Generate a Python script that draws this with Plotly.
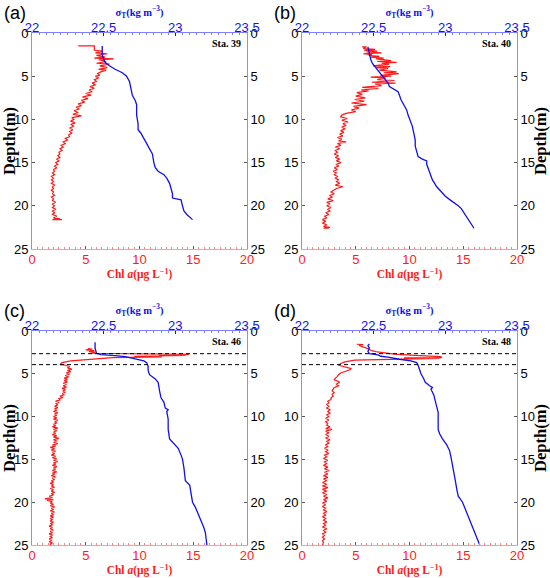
import plotly.graph_objects as go

# ---------------- data: (depth m, value) pairs ----------------
chl_39 = [(1.5,4.3),(1.5,5.8),(2.0,5.8),(2.1,6.6),(2.3,5.9),(2.4,7.0),(2.6,6.0),(2.8,6.8),(2.9,5.8),(3.0,7.6),
          (3.1,6.2),(3.3,6.9),(3.5,6.0),(3.6,7.2),(3.8,6.3),(4.0,7.0),(4.2,6.2),(4.3,6.9),(4.5,6.4),(4.7,6.1),
          (4.9,6.3),(5.0,5.9),(5.2,6.2),(5.4,5.8),(5.6,6.0),(5.8,5.6),(6.0,5.9),(6.2,5.4),(6.4,5.8),(6.6,5.3),
          (6.8,5.6),(7.0,5.0),(7.2,5.5),(7.4,4.7),(7.6,5.2),(7.8,4.6),(8.0,4.9),(8.2,4.3),(8.4,4.6),(8.6,4.1),
          (8.8,4.4),(9.0,3.9),(9.2,4.3),(9.4,3.8),(9.6,4.6),(9.8,3.7),(10.0,3.9),(10.2,3.6),(10.4,4.0),(10.6,3.6),
          (10.8,3.9),(11.0,3.5),(11.2,3.8),(11.4,3.5),(11.6,3.7),(11.8,3.4),(12.0,3.5),(12.2,3.1),(12.4,3.3),(12.6,2.9),
          (12.8,3.1),(13.0,2.7),(13.2,2.9),(13.4,2.6),(13.6,2.8),(13.8,2.5),(14.0,2.6),(14.2,2.4),(14.4,2.6),(14.6,2.3),
          (14.8,2.5),(15.0,2.2),(15.2,2.4),(15.4,2.1),(15.6,2.3),(15.8,2.0),(16.0,2.1),(16.2,1.9),(16.4,2.1),(16.6,1.8),
          (16.8,2.0),(17.0,1.8),(17.2,2.0),(17.4,1.8),(17.6,2.1),(17.8,1.9),(18.0,2.0),(18.2,1.8),(18.4,2.0),(18.6,1.9),
          (18.8,2.1),(19.0,1.8),(19.2,2.0),(19.4,1.9),(19.6,2.2),(19.8,1.9),(20.0,2.1),(20.2,1.9),(20.4,2.2),(20.6,1.9),
          (20.8,2.1),(21.0,1.9),(21.2,2.3),(21.4,2.0),(21.5,2.6),(21.6,1.9),(21.6,2.8)]
sig_39 = [(1.5,22.49),(2.5,22.49),(3.0,22.50),(3.4,22.51),(3.8,22.54),(4.2,22.58),(4.6,22.63),(5.0,22.66),(5.6,22.68),(6.5,22.69),
          (7.2,22.70),(7.8,22.72),(8.3,22.73),(9.5,22.73),(10.5,22.74),(11.2,22.74),(11.6,22.76),(12.2,22.78),(12.8,22.80),(13.4,22.82),
          (14.0,22.84),(15.0,22.85),(15.6,22.86),(16.0,22.88),(16.4,22.92),(16.8,22.94),(17.4,22.96),(18.0,22.97),(18.6,22.98),(19.1,22.98),
          (19.3,23.04),(20.0,23.05),(20.6,23.06),(21.0,23.08),(21.3,23.10),(21.6,23.12)]

chl_40 = [(1.6,5.6),(1.6,6.0),(1.8,5.7),(1.9,6.8),(2.0,5.8),(2.1,7.0),(2.2,6.0),(2.3,7.4),(2.4,5.7),(2.5,6.5),
          (2.6,6.2),(2.7,7.2),(2.8,6.4),(2.9,7.6),(3.0,6.9),(3.2,8.3),(3.3,7.0),(3.4,8.8),(3.5,7.4),(3.6,8.1),
          (3.8,6.6),(3.9,8.2),(4.0,6.9),(4.1,8.0),(4.3,7.2),(4.5,8.8),(4.6,7.6),(4.7,9.0),(4.9,7.3),(5.0,8.3),
          (5.1,6.4),(5.2,7.8),(5.4,7.0),(5.5,8.6),(5.7,6.5),(5.8,8.7),(5.9,6.8),(6.1,7.4),(6.3,5.6),(6.4,7.1),
          (6.6,5.5),(6.7,6.2),(6.9,5.1),(7.1,5.6),(7.3,5.0),(7.5,5.9),(7.7,4.9),(7.9,5.8),(8.1,4.6),(8.3,6.0),
          (8.5,4.8),(8.7,5.3),(8.9,4.6),(9.1,5.0),(9.3,4.1),(9.5,3.7),(9.7,3.6),(9.9,4.2),(10.1,3.7),(10.3,4.3),
          (10.5,3.8),(10.7,4.1),(10.9,3.7),(11.1,4.0),(11.3,3.6),(11.5,3.9),(11.7,3.5),(11.9,3.8),(12.1,3.3),(12.3,3.7),
          (12.5,3.4),(12.6,4.1),(12.8,3.3),(13.0,3.6),(13.2,3.1),(13.4,3.5),(13.6,3.1),(13.8,3.3),(14.0,3.0),(14.2,3.4),
          (14.4,3.1),(14.6,3.5),(14.8,3.2),(15.0,3.6),(15.2,3.2),(15.4,3.4),(15.6,3.0),(15.8,3.3),(16.0,2.9),(16.2,3.2),
          (16.4,3.0),(16.6,3.3),(16.8,3.1),(17.0,3.4),(17.2,3.2),(17.4,3.5),(17.6,3.1),(17.8,3.8),(18.0,3.2),(18.2,3.0),
          (18.4,2.7),(18.6,3.0),(18.8,2.6),(19.0,2.8),(19.2,2.4),(19.4,2.9),(19.6,2.3),(19.8,2.6),(20.0,2.3),(20.2,2.7),
          (20.4,2.4),(20.6,2.6),(20.8,2.2),(21.0,2.5),(21.2,2.1),(21.4,2.3),(21.6,1.9),(21.8,2.2),(22.0,1.9),(22.2,2.3),
          (22.4,2.0),(22.5,2.6),(22.6,2.0),(22.6,2.5)]
sig_40 = [(1.6,22.46),(2.4,22.47),(3.1,22.48),(3.5,22.49),(3.9,22.51),(4.3,22.53),(4.7,22.55),(5.0,22.56),(5.4,22.58),(5.8,22.60),
          (6.2,22.61),(6.6,22.65),(6.8,22.67),(7.2,22.68),(7.7,22.69),(8.3,22.71),(8.9,22.73),(9.5,22.74),(10.0,22.75),(10.8,22.77),
          (11.6,22.78),(12.4,22.79),(13.1,22.79),(13.8,22.80),(14.3,22.81),(14.6,22.84),(14.8,22.87),(15.2,22.87),(15.7,22.88),(16.2,22.89),
          (17.0,22.91),(17.8,22.94),(18.4,22.97),(18.9,23.00),(19.4,23.04),(19.7,23.07),(20.0,23.09),(20.3,23.11),(20.8,23.13),(21.2,23.15),
          (21.8,23.17),(22.2,23.19),(22.6,23.20)]

chl_46 = [(2.05,5.2),(2.1,5.6),(2.2,5.0),(2.3,5.8),(2.4,5.3),(2.5,5.9),(2.6,5.5),(2.72,14.6),(2.8,11.8),(2.86,14.3),
          (2.95,9.5),(3.02,12.1),(3.1,7.5),(3.3,5.3),(3.5,3.6),(3.7,2.8),(3.9,2.6),(4.0,3.1),(4.15,3.5),(4.3,3.3),
          (4.45,3.7),(4.6,3.3),(4.75,3.6),(4.9,3.2),(5.05,3.5),(5.2,3.1),(5.35,3.4),(5.5,3.0),(5.65,3.3),(5.8,3.0),
          (5.95,3.3),(6.1,2.9),(6.25,3.2),(6.4,2.9),(6.55,3.2),(6.7,2.8),(6.85,3.1),(7.0,2.9),(7.15,3.1),(7.3,2.8),
          (7.45,3.0),(7.6,2.6),(7.75,2.9),(7.9,2.5),(8.05,2.6),(8.2,2.2),(8.35,2.5),(8.5,2.2),(8.65,2.4),(8.8,2.1),
          (8.95,2.4),(9.1,2.1),(9.25,2.3),(9.4,2.0),(9.55,2.4),(9.7,2.1),(9.85,2.3),(10.0,2.0),(10.15,2.3),(10.3,2.0),
          (10.45,2.4),(10.6,2.1),(10.75,2.3),(10.9,2.0),(11.05,2.2),(11.2,1.9),(11.35,2.4),(11.5,2.0),(11.65,2.3),(11.8,2.0),
          (11.95,2.2),(12.1,1.9),(12.25,2.3),(12.4,2.0),(12.55,2.5),(12.7,2.0),(12.85,2.3),(13.0,2.0),(13.15,2.4),(13.3,1.9),
          (13.45,2.2),(13.6,1.7),(13.75,2.1),(13.9,1.8),(14.05,2.2),(14.2,1.9),(14.35,2.1),(14.5,1.8),(14.65,2.2),(14.8,1.9),
          (14.95,2.3),(15.1,2.0),(15.25,2.4),(15.4,2.0),(15.55,2.2),(15.7,1.9),(15.85,2.3),(16.0,2.0),(16.15,2.2),(16.3,1.9),
          (16.45,2.3),(16.6,1.9),(16.75,2.1),(16.9,1.8),(17.05,2.2),(17.2,1.9),(17.35,2.1),(17.5,1.8),(17.65,2.0),(17.8,1.7),
          (17.95,2.0),(18.1,1.8),(18.25,2.1),(18.4,1.7),(18.55,2.0),(18.7,1.8),(18.85,2.1),(19.0,1.8),(19.15,2.0),(19.3,1.6),
          (19.45,1.9),(19.6,1.2),(19.7,2.0),(19.8,1.4),(19.95,1.9),(20.1,1.7),(20.25,2.0),(20.4,1.7),(20.55,2.1),(20.7,1.8),
          (20.85,2.0),(21.0,1.7),(21.15,2.1),(21.3,1.8),(21.45,2.0),(21.6,1.7),(21.75,2.0),(21.9,1.7),(22.05,1.9),(22.2,1.7),
          (22.35,2.0),(22.5,1.7),(22.65,1.9),(22.8,1.6),(22.95,1.9),(23.1,1.7),(23.25,2.0),(23.4,1.7),(23.55,1.9),(23.7,1.6),
          (23.85,1.9),(24.0,1.7),(24.15,1.9),(24.3,1.6),(24.45,1.8),(24.6,1.6),(24.75,1.9),(24.9,1.7),(25.0,1.8)]
sig_46 = [(1.3,22.44),(2.0,22.44),(2.6,22.45),(2.75,22.48),(2.85,22.56),(3.0,22.65),(3.25,22.72),(3.5,22.78),(3.7,22.80),(4.1,22.81),
          (4.6,22.81),(5.1,22.82),(5.6,22.86),(6.0,22.88),(7.0,22.89),(7.8,22.90),(8.3,22.92),(9.0,22.93),(9.2,22.95),(9.4,22.94),
          (10.3,22.95),(11.5,22.95),(12.6,22.96),(13.1,22.99),(13.7,23.02),(14.5,23.04),(15.0,23.05),(16.0,23.06),(17.5,23.07),(18.0,23.10),
          (19.0,23.11),(20.0,23.12),(20.6,23.14),(21.3,23.16),(22.2,23.18),(23.0,23.20),(23.6,23.21),(25.0,23.22)]

chl_48 = [(1.55,5.1),(1.6,5.7),(1.7,5.3),(1.8,5.6),(2.0,6.0),(2.3,6.5),(2.45,7.0),(2.55,7.7),(2.7,8.6),(2.85,10.5),
          (3.0,12.9),(3.1,13.0),(3.15,9.5),(3.2,12.8),(3.3,6.0),(3.4,4.9),(3.6,4.0),(3.8,3.6),(4.0,3.4),(4.1,3.7),
          (4.25,4.3),(4.4,4.6),(4.55,4.4),(4.7,4.0),(4.9,3.6),(5.1,3.4),(5.3,3.3),(5.5,3.1),(5.7,3.0),(5.85,3.3),
          (6.0,3.5),(6.2,3.2),(6.4,3.4),(6.6,3.0),(6.8,2.9),(7.0,2.8),(7.2,3.0),(7.4,2.8),(7.6,2.9),(7.8,2.7),
          (8.0,2.7),(8.2,2.4),(8.4,2.5),(8.6,2.3),(8.8,2.5),(9.0,2.3),(9.2,2.6),(9.4,2.4),(9.6,2.6),(9.8,2.3),
          (10.0,2.5),(10.2,2.2),(10.4,2.5),(10.6,2.2),(10.8,2.4),(11.0,2.3),(11.2,2.6),(11.4,2.2),(11.5,2.8),(11.7,2.2),
          (11.9,2.5),(12.1,2.2),(12.3,2.5),(12.5,2.2),(12.7,2.6),(12.9,2.3),(13.1,2.5),(13.3,2.2),(13.5,2.4),(13.7,2.1),
          (13.9,2.4),(14.1,2.2),(14.3,2.5),(14.5,2.1),(14.7,2.3),(14.9,2.0),(15.1,2.4),(15.3,2.1),(15.5,2.3),(15.7,2.0),
          (15.9,2.4),(16.1,2.1),(16.3,2.5),(16.5,2.1),(16.7,2.4),(16.9,2.0),(17.1,2.4),(17.3,2.0),(17.5,2.3),(17.7,1.9),
          (17.9,2.3),(18.1,1.9),(18.3,2.4),(18.5,1.9),(18.7,2.3),(18.9,1.9),(19.1,2.3),(19.3,2.0),(19.5,2.4),(19.7,2.0),
          (19.9,2.3),(20.1,1.9),(20.3,2.2),(20.5,1.9),(20.7,2.2),(20.9,2.0),(21.1,2.3),(21.3,2.0),(21.5,2.2),(21.7,1.9),
          (21.9,2.2),(22.1,2.0),(22.3,2.3),(22.5,2.0),(22.7,2.2),(22.9,1.9),(23.1,2.3),(23.3,2.0),(23.5,2.2),(23.7,1.9),
          (23.9,2.1),(24.1,1.9),(24.3,2.1),(24.5,1.9),(24.7,2.0),(25.0,1.9)]
sig_48 = [(1.5,22.47),(1.7,22.46),(2.0,22.47),(2.4,22.46),(2.65,22.47),(2.8,22.53),(2.95,22.55),(3.05,22.60),(3.3,22.68),(3.5,22.76),
          (3.7,22.80),(4.0,22.81),(4.5,22.82),(5.0,22.83),(5.6,22.85),(6.0,22.86),(6.4,22.89),(6.6,22.91),(6.8,22.90),(7.5,22.92),
          (8.2,22.93),(8.8,22.94),(9.5,22.95),(10.5,22.95),(11.5,22.95),(12.0,22.96),(12.6,22.98),(13.3,23.01),(14.0,23.03),(14.8,23.04),
          (15.6,23.05),(16.5,23.06),(17.5,23.07),(18.5,23.08),(19.3,23.09),(20.0,23.12),(20.8,23.14),(21.6,23.16),(22.5,23.18),(23.3,23.20),
          (24.2,23.22),(25.0,23.24)]

panel_labels = ["(a)", "(b)", "(c)", "(d)"]
station_labels = ["Sta. 39", "Sta. 40", "Sta. 46", "Sta. 48"]
mixed_layer_bounds = [2.65, 3.93]          # dashed lines in (c) and (d)
depth_ticks = [0, 5, 10, 15, 20, 25]
chl_ticks = [0, 5, 10, 15, 20]
sig_ticks = [22, 22.5, 23, 23.5]
sig_ticktext = ["22", "22.5", "23", "23.5"]

# ---------------- layout geometry ----------------
W, H = 550, 578
RED = "#ff1a1a"
BLUE = "#1010ee"
GRAY = "#9a9a9a"
SANS = "Liberation Sans, Arial, sans-serif"
SERIF = "Liberation Serif, Times New Roman, serif"

panels = [
    dict(chl=chl_39, sig=sig_39, dash=False, title_side="left", px=(32, 247), py=(33, 249)),
    dict(chl=chl_40, sig=sig_40, dash=False, title_side="right", px=(302, 517), py=(33, 249)),
    dict(chl=chl_46, sig=sig_46, dash=True, title_side="left", px=(32, 247), py=(331, 545)),
    dict(chl=chl_48, sig=sig_48, dash=True, title_side="right", px=(302, 517), py=(331, 545)),
]

def fx(x):
    return x / W

def fy(y):
    return 1 - y / H

fig = go.Figure()
layout = dict(width=W, height=H, autosize=False, margin=dict(l=0, r=0, t=0, b=0, autoexpand=False),
              paper_bgcolor="white", plot_bgcolor="white", showlegend=False)
shapes, annotations = [], []

def sfx(n):
    return "" if n == 1 else str(n)

for i, p in enumerate(panels):
    k = i + 1
    kt = k + 4
    xd = [fx(p["px"][0]), fx(p["px"][1])]
    yd = [fy(p["py"][1]), fy(p["py"][0])]

    cd = [d for d, v in p["chl"]]
    cv = [v for d, v in p["chl"]]
    sd = [d for d, v in p["sig"]]
    sv = [v for d, v in p["sig"]]

    fig.add_trace(go.Scatter(x=cv, y=cd, mode="lines", line=dict(color=RED, width=1.2),
                             xaxis="x" + sfx(k), yaxis="y" + sfx(k), hoverinfo="skip"))
    fig.add_trace(go.Scatter(x=sv, y=sd, mode="lines", line=dict(color=BLUE, width=1.3),
                             xaxis="x" + sfx(kt), yaxis="y" + sfx(k), hoverinfo="skip"))
    fig.add_trace(go.Scatter(x=[None], y=[None], mode="lines", showlegend=False,
                             xaxis="x" + sfx(k), yaxis="y" + sfx(kt), hoverinfo="skip"))

    layout["xaxis" + sfx(k)] = dict(
        domain=xd, anchor="y" + sfx(k), range=[0, 20], side="bottom", automargin=False,
        tickvals=chl_ticks, ticks="inside", ticklen=3, tickcolor=RED, ticklabelstandoff=-2,
        tickfont=dict(family=SANS, size=13, color=RED),
        showline=True, linecolor="#ff9a9a", linewidth=1, showgrid=False, zeroline=False,
        minor=dict(ticks="inside", dtick=0.5, ticklen=2, tickcolor="#ff8080", showgrid=False),
        title=dict(text="<b>Chl <i>a</i>(μg L<sup>−1</sup>)</b>",
                   font=dict(family=SERIF, size=11.5, color=RED), standoff=3),
        fixedrange=True)
    layout["xaxis" + sfx(kt)] = dict(
        domain=xd, anchor="y" + sfx(k), overlaying="x" + sfx(k), range=[22, 23.5], side="top",
        automargin=False, ticklabelstandoff=-5,
        tickvals=sig_ticks, ticktext=sig_ticktext, ticks="inside", ticklen=3, tickcolor=BLUE,
        tickfont=dict(family=SANS, size=13, color=BLUE),
        showline=True, linecolor="#8080ff", linewidth=1, showgrid=False, zeroline=False,
        minor=dict(ticks="inside", dtick=0.05, ticklen=2, tickcolor="#8080ff", showgrid=False),
        title=dict(text="<b>σ<sub>T</sub>(kg m<sup>−3</sup>)</b>",
                   font=dict(family=SERIF, size=10.5, color=BLUE), standoff=0),
        fixedrange=True)
    ytitle = dict(text="<b>Depth(m)</b>", font=dict(family=SERIF, size=16.5, color="black"), standoff=0)
    layout["yaxis" + sfx(k)] = dict(
        domain=yd, anchor="x" + sfx(k), range=[25, 0], side="left", automargin=False,
        tickvals=depth_ticks, ticks="inside", ticklen=3, tickcolor="#555",
        tickfont=dict(family=SANS, size=13, color="black"),
        showline=True, linecolor=GRAY, linewidth=1, showgrid=False, zeroline=False,
        title=ytitle if p["title_side"] == "left" else None, fixedrange=True)
    layout["yaxis" + sfx(kt)] = dict(
        domain=yd, anchor="x" + sfx(k), overlaying="y" + sfx(k), range=[25, 0], side="right",
        automargin=False,
        tickvals=depth_ticks, ticks="inside", ticklen=3, tickcolor="#555",
        tickfont=dict(family=SANS, size=13, color="black"),
        showline=True, linecolor=GRAY, linewidth=1, showgrid=False, zeroline=False,
        title=ytitle if p["title_side"] == "right" else None, fixedrange=True)

    if p["dash"]:
        for dep in mixed_layer_bounds:
            shapes.append(dict(type="line", xref="x" + sfx(k) + " domain", x0=0, x1=1,
                               yref="y" + sfx(k), y0=dep, y1=dep,
                               line=dict(color="black", width=1, dash="4px,3px")))

    annotations.append(dict(text=panel_labels[i], xref="paper", yref="paper",
                            x=fx(p["px"][0] - 30), y=fy(p["py"][0] - 20),
                            xanchor="left", yanchor="middle", showarrow=False,
                            font=dict(family=SANS, size=18, color="black")))
    annotations.append(dict(text="<b>" + station_labels[i] + "</b>", xref="paper", yref="paper",
                            x=fx(p["px"][1] - 4), y=fy(p["py"][0] + 10),
                            xanchor="right", yanchor="middle", showarrow=False,
                            font=dict(family=SERIF, size=10, color="black")))

layout["shapes"] = shapes
layout["annotations"] = annotations
fig.update_layout(**layout)
# the page's default 8px body margin would push the 550x578 figure off the window
fig.write_html("out.html", config={"displayModeBar": False},
               post_script="document.body.style.margin='0px';")
